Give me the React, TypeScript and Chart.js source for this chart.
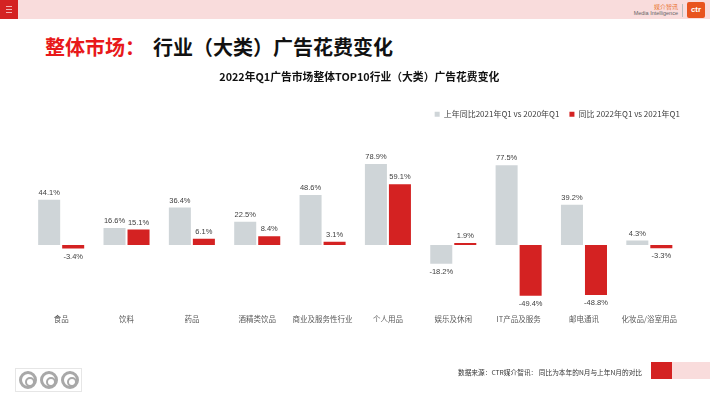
import React, { useEffect, useRef } from "react";
import { Chart, registerables } from "chart.js";

Chart.register(...registerables);

const categories = [
  "食品",
  "饮料",
  "药品",
  "酒精类饮品",
  "商业及服务性行业",
  "个人用品",
  "娱乐及休闲",
  "IT产品及服务",
  "邮电通讯",
  "化妆品/浴室用品",
];
const prevYearYoY = [44.1, 16.6, 36.4, 22.5, 48.6, 78.9, -18.2, 77.5, 39.2, 4.3];
const currentYoY = [-3.4, 15.1, 6.1, 8.4, 3.1, 59.1, 1.9, -49.4, -48.8, -3.3];
const seriesNames = ["上年同比2021年Q1 vs 2020年Q1", "同比 2022年Q1 vs 2021年Q1"];
const chartTitle = "2022年Q1广告市场整体TOP10行业（大类）广告花费变化";

const GRAY = "#cfd5d8";
const RED = "#d42222";
const CJK = "'Noto Sans CJK SC', 'Noto Sans', sans-serif";

const valueLabels = {
  id: "valueLabels",
  afterDatasetsDraw(chart: any) {
    const ctx = chart.ctx;
    ctx.save();
    ctx.font = "7.5px 'Liberation Sans', Arial, sans-serif";
    ctx.fillStyle = "#404040";
    ctx.textAlign = "center";
    ctx.textBaseline = "middle";
    chart.data.datasets.forEach((ds: any, di: number) => {
      const meta = chart.getDatasetMeta(di);
      meta.data.forEach((el: any, i: number) => {
        const v = ds.data[i];
        const txt = v.toFixed(1) + "%";
        const y = v >= 0 ? el.y - 7 : el.y + 8;
        ctx.fillText(txt, el.x, y);
      });
    });
    ctx.restore();
  },
};

function BarChart() {
  const ref = useRef<HTMLCanvasElement | null>(null);
  useEffect(() => {
    if (!ref.current) return;
    const chart = new Chart(ref.current, {
      type: "bar",
      data: {
        labels: categories,
        datasets: [
          {
            label: seriesNames[0],
            data: prevYearYoY,
            backgroundColor: GRAY,
            categoryPercentage: 0.735,
            barPercentage: 0.917,
          },
          {
            label: seriesNames[1],
            data: currentYoY,
            backgroundColor: RED,
            categoryPercentage: 0.735,
            barPercentage: 0.917,
          },
        ],
      },
      options: {
        animation: false,
        responsive: false,
        maintainAspectRatio: false,
        layout: { padding: { top: 60, left: 28.5, right: 20, bottom: 67.4 } },
        scales: {
          x: {
            grid: { display: false, drawTicks: false },
            border: { display: false },
            ticks: {
              font: { size: 7.5, family: CJK },
              color: "#595959",
              padding: 8,
              maxRotation: 0,
              autoSkip: false,
            },
          },
          y: {
            display: false,
            min: -60,
            max: 113.7,
          },
          y2: {
            position: "right",
            display: true,
            grid: { display: false, drawTicks: false },
            border: { display: false },
            ticks: { display: false },
            afterFit: (s: any) => {
              s.width = 8;
            },
          },
        },
        plugins: {
          title: {
            display: true,
            text: chartTitle,
            color: "#111",
            font: { size: 10.8, weight: "bold", family: CJK },
            padding: { top: 10.5, bottom: 16.7 },
          },
          legend: {
            position: "top",
            align: "end",
            labels: {
              boxWidth: 5,
              boxHeight: 5,
              padding: 10,
              color: "#404040",
              font: { size: 8, family: CJK },
            },
          },
          tooltip: { enabled: false },
        },
      },
      plugins: [valueLabels],
    } as any);
    return () => chart.destroy();
  }, []);
  return (
    <canvas
      ref={ref}
      width={710}
      height={399}
      style={{ position: "absolute", left: 0, top: 0, width: 710, height: 399 }}
    />
  );
}

export default function App() {
  return (
    <div
      style={{
        position: "absolute",
        left: 0,
        top: 0,
        width: 710,
        height: 399,
        background: "#fff",
        overflow: "hidden",
        fontFamily: CJK,
      }}
    >
      {/* header band */}
      <div style={{ position: "absolute", left: 0, top: 0, width: 710, height: 19, background: "#f9dcdc" }} />
      <div style={{ position: "absolute", left: 0, top: 0, width: 18, height: 19, background: "#d42222" }}>
        {[6, 9, 12].map((t) => (
          <div key={t} style={{ position: "absolute", left: 6, top: t, width: 6, height: 1, background: "#f4b0b0" }} />
        ))}
      </div>
      <div
        style={{
          position: "absolute",
          left: 640,
          top: 3,
          width: 38,
          textAlign: "right",
          fontSize: 6,
          lineHeight: "7px",
          color: "#e8702a",
          whiteSpace: "nowrap",
        }}
      >
        媒介智讯
      </div>
      <div
        style={{
          position: "absolute",
          left: 620,
          top: 10,
          width: 58,
          textAlign: "right",
          fontSize: 5.5,
          lineHeight: "7px",
          color: "#666",
          whiteSpace: "nowrap",
          fontFamily: "'Liberation Sans', Arial, sans-serif",
        }}
      >
        Media Intelligence
      </div>
      <div style={{ position: "absolute", left: 682, top: 4, width: 1, height: 13, background: "#bbb" }} />
      <div
        style={{
          position: "absolute",
          left: 687,
          top: 2,
          width: 18,
          height: 16,
          background: "#e8541e",
          borderRadius: 2,
          color: "#fff",
          fontSize: 8,
          lineHeight: "16px",
          textAlign: "center",
          fontWeight: "bold",
          fontFamily: "'Liberation Sans', Arial, sans-serif",
        }}
      >
        ctr
      </div>

      {/* page title */}
      <div
        style={{
          position: "absolute",
          left: 45,
          top: 33,
          fontSize: 20,
          lineHeight: "28px",
          fontWeight: "bold",
          color: "#e8191a",
          whiteSpace: "nowrap",
        }}
      >
        整体市场：
      </div>
      <div
        style={{
          position: "absolute",
          left: 153,
          top: 33,
          fontSize: 20,
          lineHeight: "28px",
          fontWeight: "bold",
          color: "#111",
          whiteSpace: "nowrap",
        }}
      >
        行业（大类）广告花费变化
      </div>

      <BarChart />

      {/* footer */}
      <div
        style={{
          position: "absolute",
          left: 15,
          top: 368,
          width: 67,
          height: 24,
          border: "1px solid #e6e6e6",
          boxSizing: "border-box",
        }}
      >
        {[3, 24, 45].map((l) => (
          <div
            key={l}
            style={{
              position: "absolute",
              left: l,
              top: 2,
              width: 18,
              height: 18,
              borderRadius: "50%",
              border: "3px solid #a8a8a8",
              boxSizing: "border-box",
            }}
          >
            <div
              style={{
                position: "absolute",
                left: 3,
                top: 3,
                width: 6,
                height: 6,
                borderRadius: "50%",
                border: "2px solid #a8a8a8",
              }}
            />
          </div>
        ))}
      </div>
      <div
        style={{
          position: "absolute",
          left: 458,
          top: 367,
          fontSize: 6.7,
          lineHeight: "10px",
          color: "#333",
          whiteSpace: "nowrap",
        }}
      >
        数据来源：CTR媒介智讯： 同比为本年的N月与上年N月的对比
      </div>
      <div style={{ position: "absolute", left: 651, top: 362, width: 21, height: 17, background: "#d42222" }} />
      <div style={{ position: "absolute", left: 672, top: 362, width: 38, height: 17, background: "#f9dcdc" }} />
    </div>
  );
}
